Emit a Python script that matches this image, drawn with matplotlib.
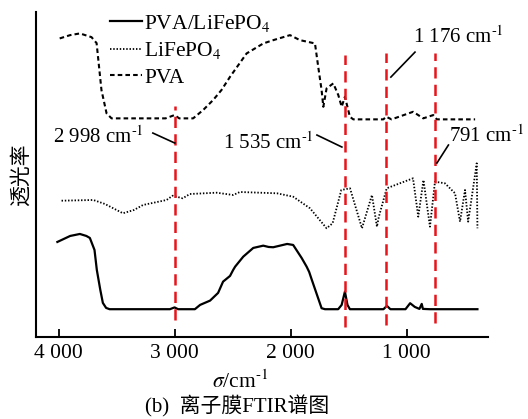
import numpy as np
import matplotlib
matplotlib.use("Agg")
import matplotlib.pyplot as plt

plt.rcParams['font.family'] = ['Liberation Serif', 'Noto Sans CJK SC']
plt.rcParams['mathtext.fontset'] = 'stix'

# PVA/LiFePO4 (solid)
wn_comp = [4010, 3900, 3816, 3760, 3730, 3690, 3670, 3640, 3618, 3590, 3560, 3040, 3000, 2970,
           2825, 2780, 2694, 2625, 2582, 2522, 2495, 2478, 2408, 2322, 2236, 2190, 2150, 2030,
           1978, 1905, 1862, 1840, 1819, 1733, 1704, 1590, 1560, 1532, 1510, 1489, 1200, 1170,
           1140, 1010, 970, 930, 890, 870, 860, 800, 390]
t_comp = [95, 101, 103, 101, 99, 87, 67, 47, 34, 29, 27.7, 27.7, 29.5, 27.7,
          27.7, 32, 36.3, 44, 55.3, 61, 67, 70.3, 80.3, 89, 91.3, 90, 89.7, 93,
          92, 79, 70.3, 65, 57.7, 28.7, 27.7, 27.7, 32, 45.3, 32, 27.7, 27.7, 31,
          27.7, 27.7, 33.7, 30, 28, 33, 28, 27.7, 27.7]

# LiFePO4 (dotted)
wn_lfp = [3974, 3700, 3600, 3445, 3350, 3272, 3069, 3017, 2930, 2868, 2638, 2495, 2437, 2118,
          1978, 1833, 1690, 1638, 1563, 1488, 1385, 1299, 1256, 1240, 1172, 945, 900, 855,
          799, 756, 670, 583, 540, 497, 470, 396, 390]
t_lfp = [136.3, 137, 133, 123.7, 127, 132, 137, 141.3, 138.7, 143, 144.3, 142, 145, 143.7,
         140.3, 128.7, 108.7, 113.7, 147, 148.7, 108.7, 142, 110.3, 120, 148.7, 158.7, 120.3, 157,
         110.3, 155.3, 153.7, 143.7, 115.3, 147, 115.3, 173.7, 108.7]

# PVA (dashed)
wn_pva = [3990, 3900, 3816, 3716, 3672, 3630, 3586, 3543, 3078, 3000, 2960, 2840, 2754, 2668,
          2596, 2522, 2379, 2235, 2149, 2005, 1920, 1790, 1762, 1733, 1718, 1690, 1632, 1589,
          1560, 1532, 1489, 1460, 1201, 1176, 1130, 944, 857, 771, 740, 410]
t_pva = [298.7, 302, 303.7, 300, 294, 247, 223.7, 218.7, 218.7, 222, 218.7, 218.7, 227, 237,
         247, 260.3, 283.7, 293.7, 297, 302, 297, 293.7, 270.3, 247, 230.3, 248.7, 253.7, 242,
         230.3, 240.3, 220.3, 217.7, 217.7, 220.3, 217.7, 225.3, 218.7, 222, 217.7, 217.7]

# marked peaks: line position, top, bottom
peak_pos = [2998, 1535, 1176, 757]
peak_top = [231, 282, 284, 284]
peak_bot = [17, 10, 12, 14]
peak_labels = ['2 998 cm$^{\\text{-}1}$', '1 535 cm$^{\\text{-}1}$',
               '1 176 cm$^{\\text{-}1}$', '791 cm$^{\\text{-}1}$']
label_xy = [(4049, 200), (2585, 194), (948, 300), (632, 201)]
leader_from = [(3187, 204), (1773, 202), (928, 285), (640, 192)]
leader_to = [(2998, 194), (1558, 190), (1136, 260), (739, 174)]

xticks = [4000, 3000, 2000, 1000]
xtick_labels = ['4 000', '3 000', '2 000', '1 000']

fs = 15.5

fig = plt.figure(figsize=(5.28, 4.19), dpi=100)
ax = fig.add_axes([0.068, 0.196, 0.856, 0.775])

ax.plot(wn_comp, t_comp, color='black', lw=1.6, ls='-', label='PVA/LiFePO$_4$')
ax.plot(wn_lfp, t_lfp, color='black', lw=1.3, ls=(0, (0.8, 1.0)), label='LiFePO$_4$')
ax.plot(wn_pva, t_pva, color='black', lw=1.5, ls=(0, (2.2, 1.5)), label='PVA')

for p, t, b in zip(peak_pos, peak_top, peak_bot):
    ax.plot([p, p], [b, t], color='#e8141b', lw=1.8, ls=(0, (4.5, 2.5)))

for lab, xy, a, b in zip(peak_labels, label_xy, leader_from, leader_to):
    ax.text(xy[0], xy[1], lab, fontsize=15, ha='left', va='center', clip_on=False)
    ax.plot([a[0], b[0]], [a[1], b[1]], color='black', lw=1.2, clip_on=False)

ax.set_xlim(4195, 300)
ax.set_ylim(0, 325)
ax.spines['top'].set_visible(False)
ax.spines['right'].set_visible(False)
ax.spines['left'].set_linewidth(1.5)
ax.spines['bottom'].set_linewidth(1.5)
ax.set_yticks([])
ax.set_xticks(xticks)
ax.set_xticklabels(xtick_labels, fontsize=fs)
ax.tick_params(axis='x', direction='in', length=6, width=1.3, pad=5)
ax.set_ylabel('透光率', fontsize=15, labelpad=3)

ax.legend(loc='upper left', bbox_to_anchor=(110 / 528, 1 - 13 / 419), bbox_transform=fig.transFigure,
          frameon=False, fontsize=fs, handlelength=1.5, handletextpad=0.1, labelspacing=0.3,
          borderpad=0, borderaxespad=0)

fig.text(240 / 528, 1 - 381.7 / 419, '$\\sigma$/cm$^{\\text{-}1}$', fontsize=fs, ha='center', va='center')
fig.text(236.7 / 528, 1 - 406.7 / 419, '(b)  离子膜FTIR谱图', fontsize=15, ha='center', va='center')

fig.savefig('out.png', dpi=100)
